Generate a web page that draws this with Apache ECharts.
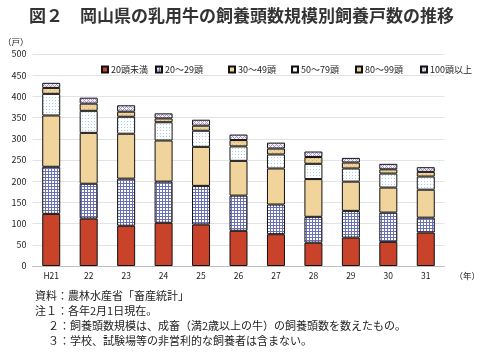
<!DOCTYPE html>
<html><head><meta charset="utf-8">
<script src="https://cdn.jsdelivr.net/npm/echarts@6/dist/echarts.min.js"></script>
<style>html,body{margin:0;padding:0;background:#fff}#c{width:483px;height:353px}</style>
</head><body><div id="c"></div>
<script>
const categories = ['H21','22','23','24','25','26','27','28','29','30','31'];
const seriesNames = ['20頭未満','20～29頭','30～49頭','50～79頭','80～99頭','100頭以上'];
const s1 = [123,112,95,102,98,83,75,55,67,57,79];
const s2 = [111,82,111,97,91,83,70,61,63,69,35];
const s3 = [121,120,106,97,92,82,85,89,69,59,66];
const s4 = [51,52,40,43,38,34,33,36,31,33,31];
const s5 = [14,17,12,9,12,15,14,16,14,10,11];
const s6 = [12,14,15,12,14,13,14,13,11,13,11];
const yTicks = [0,50,100,150,200,250,300,350,400,450,500];
const notes = ['資料：農林水産省「畜産統計」','注１：各年2月1日現在。','２：飼養頭数規模は、成畜（満2歳以上の牛）の飼養頭数を数えたもの。','３：学校、試験場等の非営利的な飼養者は含まない。'];

function pat(size, bg, draw){
  const c=document.createElement('canvas'); c.width=size; c.height=size;
  const g=c.getContext('2d'); g.fillStyle=bg; g.fillRect(0,0,size,size); draw(g);
  return {image:c, repeat:'repeat'};
}
const red = '#C9432A';
const grid = pat(3,'#ffffff',g=>{g.fillStyle='#6A70B4';g.fillRect(0,0,3,1);g.fillRect(0,0,1,3);});
const tan = '#F1D39C';
const dots = pat(3,'#ffffff',g=>{g.fillStyle='#A8CDE0';g.fillRect(1,1,1,1);});
const tanHatch = pat(4,'#F1D39C',g=>{g.fillStyle='#D2B07E';g.fillRect(0,0,1,1);g.fillRect(2,2,1,1);});
const purple = pat(4,'#F4F0FA',g=>{g.fillStyle='#A594CC';g.fillRect(0,0,1,1);g.fillRect(1,1,1,1);g.fillRect(2,2,1,1);g.fillRect(3,3,1,1);g.fillRect(3,1,1,1);g.fillRect(1,3,1,1);});
const colors=[red,grid,tan,dots,tanHatch,purple];
const data=[s1,s2,s3,s4,s5,s6];
const legendX=[96,150,223,286,350,415];
const FONT='"Noto Sans CJK JP", sans-serif';

const chart=echarts.init(document.getElementById('c'),null,{renderer:'canvas'});
chart.setOption({
  animation:false,
  textStyle:{fontFamily:FONT},
  title:{text:'図２　岡山県の乳用牛の飼養頭数規模別飼養戸数の推移',left:'center',top:2,
    textStyle:{fontSize:17,fontWeight:'bold',color:'#333',fontFamily:FONT}},
  legend: seriesNames.map((n,i)=>({data:[n],left:legendX[i],top:60,itemWidth:6,itemHeight:6,itemGap:3,
    textStyle:{fontSize:9,color:'#222',fontFamily:FONT,padding:[0,0,0,-2]},icon:'rect'})),
  grid:{left:24,right:22,top:54,bottom:87},
  xAxis:{type:'category',data:categories,axisTick:{show:false},
    axisLine:{lineStyle:{color:'#bfbfbf'}},
    axisLabel:{fontSize:8.5,color:'#222',margin:6},
    name:'（年）',nameLocation:'end',nameGap:0,
    nameTextStyle:{fontSize:8.5,color:'#222',verticalAlign:'top',padding:[6,0,0,10]}},
  yAxis:{type:'value',min:0,max:500,interval:50,
    axisLabel:{fontSize:9,color:'#222',margin:6},
    splitLine:{lineStyle:{color:'#e3e3e3'}},
    name:'（戸）',nameLocation:'end',nameGap:8,
    nameTextStyle:{fontSize:8.5,color:'#222',align:'right',padding:[0,4,0,0]}},
  graphic: notes.map((t,i)=>({type:'text',left:i<2?35:48,top:[290,305,320,335][i],
    style:{text:t,fontSize:11,fill:'#222',fontFamily:FONT}})),
  series: seriesNames.map((n,i)=>({name:n,type:'bar',stack:'t',barWidth:18,data:data[i],
    itemStyle:{color:colors[i],borderColor:'#111',borderWidth:1}}))
});
</script></body></html>
